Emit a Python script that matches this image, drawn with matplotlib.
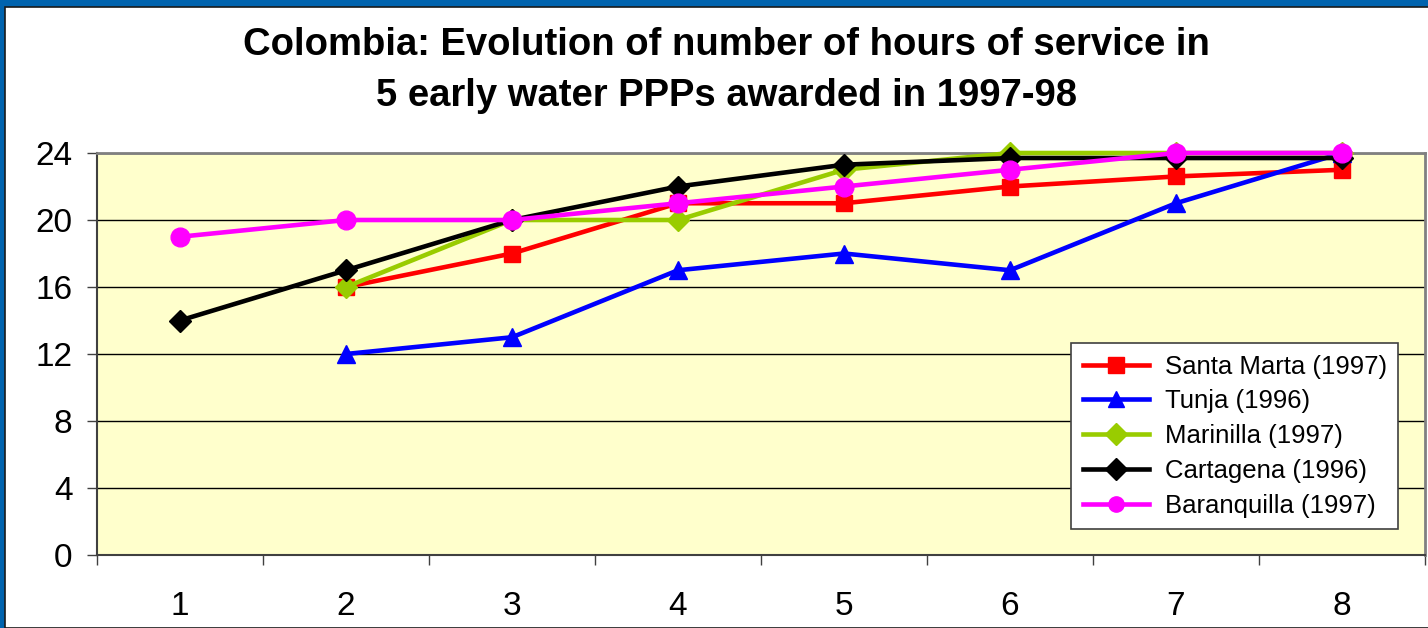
import matplotlib.pyplot as plt
from matplotlib.patches import Rectangle

plt.rcParams['font.family'] = ['Liberation Sans', 'DejaVu Sans']

# data
years = [1, 2, 3, 4, 5, 6, 7, 8]
santa_marta = [None, 16, 18, 21, 21, 22, 22.6, 23]
tunja = [None, 12, 13, 17, 18, 17, 21, 24]
marinilla = [None, 16, 20, 20, 23, 24, 24, 24]
cartagena = [14, 17, 20, 22, 23.3, 23.7, 23.7, 23.7]
baranquilla = [19, 20, 20, 21, 22, 23, 24, 24]

series = [
    ("Santa Marta (1997)", santa_marta, '#FF0000', 's', 11),
    ("Tunja (1996)", tunja, '#0000FF', '^', 13),
    ("Marinilla (1997)", marinilla, '#99CC00', 'D', 11.5),
    ("Cartagena (1996)", cartagena, '#000000', 'D', 11.5),
    ("Baranquilla (1997)", baranquilla, '#FF00FF', 'o', 13.5),
]

fig = plt.figure(figsize=(14.28, 6.28), dpi=100)
fig.patch.set_facecolor('#0063AE')
fig.add_artist(Rectangle((5 / 1428, 0), 1, 1 - 7 / 628, transform=fig.transFigure,
                         facecolor='white', edgecolor='#1a1a1a', linewidth=1.2,
                         zorder=-10))

ax = fig.add_axes([97 / 1428, 1 - 555 / 628, (1425 - 97) / 1428, (555 - 153) / 628])
ax.set_facecolor('#FFFFCC')

for name, vals, color, marker, ms in series:
    xs = [x for x, v in zip(years, vals) if v is not None]
    ys = [v for v in vals if v is not None]
    ax.plot(xs, ys, color=color, lw=3.3, marker=marker, markersize=ms,
            markeredgecolor=color, label=name, clip_on=False, zorder=3)

ax.set_ylim(0, 24)
ax.set_yticks(range(0, 25, 4))
ax.set_xlim(0.5, 8.5)
ax.set_xticks([x + 0.5 for x in range(0, 9)])
ax.set_xticklabels([])
ax.set_xticks(years, minor=True)
ax.set_xticklabels([str(y) for y in years], minor=True)
ax.tick_params(axis='x', which='minor', length=0, labelsize=24, pad=26)
ax.tick_params(axis='x', which='major', length=7, width=1, color='#404040')
ax.tick_params(axis='y', length=7.2, width=1, color='#404040', labelsize=24, pad=10.5)
ax.yaxis.grid(True, color='black', lw=1)
ax.set_axisbelow(True)

for side in ('top', 'right'):
    ax.spines[side].set_color('#808080')
    ax.spines[side].set_linewidth(2)
for side in ('left', 'bottom'):
    ax.spines[side].set_color('#404040')
    ax.spines[side].set_linewidth(1.5)

fig.text(0.509, 1 - 45 / 628, "Colombia: Evolution of number of hours of service in",
         ha='center', va='center', fontsize=27.5, fontweight='bold')
fig.text(0.509, 1 - 96 / 628, "5 early water PPPs awarded in 1997-98",
         ha='center', va='center', fontsize=27.5, fontweight='bold')

leg = ax.legend(loc='upper left', bbox_to_anchor=(1071 / 1428, 1 - 343 / 628),
                bbox_transform=fig.transFigure, fontsize=18.5, frameon=True,
                fancybox=False, edgecolor='#404040', framealpha=1,
                handlelength=2.6, handletextpad=0.6, labelspacing=0.42,
                borderpad=0.45, borderaxespad=0)
leg.get_frame().set_linewidth(1.2)
for h in leg.legend_handles:
    h.set_markersize(11)

fig.savefig('out.png', dpi=100, facecolor=fig.get_facecolor())
